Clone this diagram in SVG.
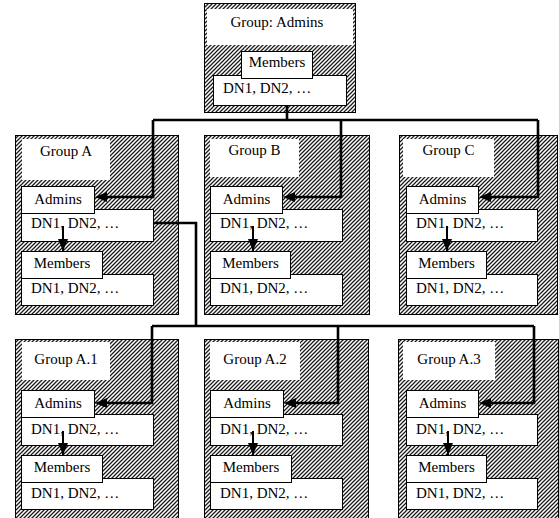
<svg xmlns="http://www.w3.org/2000/svg" width="559" height="518" viewBox="0 0 559 518" font-family="'Liberation Serif', 'Times New Roman', 'DejaVu Serif', serif" font-size="15">
<style>
text{font-family:'Liberation Serif','Times New Roman','DejaVu Serif',serif;font-size:15px;fill:#000}
.c{text-anchor:middle}
.outer{fill:url(#hatch);stroke:#000;stroke-width:1}
.lbl{fill:#fff;stroke:none}
.box{fill:#fff;stroke:#000;stroke-width:1}
.conn{fill:none;stroke:#000;stroke-width:2.6}
.arr{fill:none;stroke:#000;stroke-width:2;marker-end:url(#ah)}
</style>
<defs>
<pattern id="hatch" patternUnits="userSpaceOnUse" width="4" height="4">
<rect width="4" height="4" fill="#fff"/>
<path d="M-1,1 l2,-2 M0,4 l4,-4 M3,5 l2,-2" stroke="#1a1a1a" stroke-width="1.25"/>
</pattern>
<marker id="ah" viewBox="0 0 12 10" refX="12" refY="5" markerWidth="12" markerHeight="10" markerUnits="userSpaceOnUse" orient="auto">
<path d="M0,0 L12,5 L0,10 z" fill="#000"/>
</marker>
</defs>

<g id="group-admins">
<rect class="outer" x="204.5" y="3.5" width="151" height="109"/>
<rect class="lbl" x="207" y="9" width="146" height="36"/>
<text class="c" x="277" y="27">Group: Admins</text>
<rect class="box" x="213.5" y="75.5" width="133" height="30"/>
<text x="223" y="93">DN1, DN2, …</text>
<rect class="box" x="241.5" y="51.5" width="71" height="27"/>
<text class="c" x="277" y="67">Members</text>
</g>

<g id="group-a" transform="translate(15,135)">
<rect class="outer" x="0.5" y="0.5" width="163" height="179"/>
<rect class="lbl" x="7" y="4" width="88" height="41"/>
<text class="c" x="51" y="21">Group A</text>
<rect class="box" x="6.5" y="74.5" width="132" height="32"/>
<text x="16" y="93">DN1, DN2, …</text>
<rect class="box" x="6.5" y="51.5" width="73" height="27"/>
<text class="c" x="43" y="69">Admins</text>
<rect class="box" x="6.5" y="139.5" width="132" height="31"/>
<text x="16" y="158">DN1, DN2, …</text>
<rect class="box" x="6.5" y="116.5" width="81" height="27"/>
<text class="c" x="47" y="133">Members</text>
<path class="arr" d="M48,91 V116"/>
</g>

<g id="group-b" transform="translate(204,135)">
<rect class="outer" x="0.5" y="0.5" width="165" height="179"/>
<rect class="lbl" x="6" y="4" width="89" height="38"/>
<text class="c" x="50.5" y="20">Group B</text>
<rect class="box" x="6.5" y="74.5" width="132" height="32"/>
<text x="16" y="93">DN1, DN2, …</text>
<rect class="box" x="6.5" y="51.5" width="72" height="27"/>
<text class="c" x="42.5" y="69">Admins</text>
<rect class="box" x="6.5" y="139.5" width="132" height="31"/>
<text x="16" y="158">DN1, DN2, …</text>
<rect class="box" x="6.5" y="116.5" width="80" height="27"/>
<text class="c" x="46.5" y="133">Members</text>
<path class="arr" d="M49,91 V116"/>
</g>

<g id="group-c" transform="translate(399,135)">
<rect class="outer" x="0.5" y="0.5" width="158" height="179"/>
<rect class="lbl" x="4" y="4" width="91" height="38"/>
<text class="c" x="49.5" y="20">Group C</text>
<rect class="box" x="7.5" y="74.5" width="131" height="32"/>
<text x="17" y="93">DN1, DN2, …</text>
<rect class="box" x="7.5" y="51.5" width="72" height="27"/>
<text class="c" x="43.5" y="69">Admins</text>
<rect class="box" x="7.5" y="139.5" width="131" height="31"/>
<text x="17" y="158">DN1, DN2, …</text>
<rect class="box" x="7.5" y="116.5" width="80" height="27"/>
<text class="c" x="47.5" y="133">Members</text>
<path class="arr" d="M48,91 V116"/>
</g>

<g id="group-a1" transform="translate(15,339)">
<rect class="outer" x="0.5" y="0.5" width="163" height="185"/>
<rect class="lbl" x="7" y="3" width="88" height="38"/>
<text class="c" x="51" y="25">Group A.1</text>
<rect class="box" x="6.5" y="75.5" width="132" height="31"/>
<text x="16" y="95">DN1, DN2, …</text>
<rect class="box" x="6.5" y="51.5" width="73" height="27"/>
<text class="c" x="43" y="69">Admins</text>
<rect class="box" x="6.5" y="139.5" width="132" height="31"/>
<text x="16" y="159">DN1, DN2, …</text>
<rect class="box" x="6.5" y="116.5" width="81" height="27"/>
<text class="c" x="47" y="133">Members</text>
<path class="arr" d="M48,92 V116"/>
</g>

<g id="group-a2" transform="translate(204,339)">
<rect class="outer" x="0.5" y="0.5" width="164" height="185"/>
<rect class="lbl" x="6" y="3" width="90" height="38"/>
<text class="c" x="51" y="25">Group A.2</text>
<rect class="box" x="6.5" y="75.5" width="132" height="31"/>
<text x="16" y="95">DN1, DN2, …</text>
<rect class="box" x="6.5" y="51.5" width="73" height="27"/>
<text class="c" x="43" y="69">Admins</text>
<rect class="box" x="6.5" y="139.5" width="132" height="31"/>
<text x="16" y="159">DN1, DN2, …</text>
<rect class="box" x="6.5" y="116.5" width="81" height="27"/>
<text class="c" x="47" y="133">Members</text>
<path class="arr" d="M49,92 V116"/>
</g>

<g id="group-a3" transform="translate(398,339)">
<rect class="outer" x="0.5" y="0.5" width="160" height="185"/>
<rect class="lbl" x="5" y="3" width="92" height="38"/>
<text class="c" x="51" y="25">Group A.3</text>
<rect class="box" x="8.5" y="75.5" width="131" height="31"/>
<text x="18" y="95">DN1, DN2, …</text>
<rect class="box" x="8.5" y="51.5" width="72" height="27"/>
<text class="c" x="44.5" y="69">Admins</text>
<rect class="box" x="8.5" y="139.5" width="131" height="31"/>
<text x="18" y="159">DN1, DN2, …</text>
<rect class="box" x="8.5" y="116.5" width="80" height="27"/>
<text class="c" x="48.5" y="133">Members</text>
<path class="arr" d="M50,92 V116"/>
</g>

<g id="connectors">
<path class="conn" d="M287,105 V120 M153,120 H538"/>
<path class="conn" d="M153,120 V197 H106"/>
<path class="conn" d="M341,120 V197 H294"/>
<path class="conn" d="M538,120 V197 H490"/>
<path class="arr" d="M108,197 H95" style="stroke-width:0.5"/>
<path class="arr" d="M296,197 H283" style="stroke-width:0.5"/>
<path class="arr" d="M492,197 H479" style="stroke-width:0.5"/>
<path class="conn" d="M153,223 H196 V326 M152,326 H534"/>
<path class="conn" d="M152,326 V403 H106"/>
<path class="conn" d="M338,326 V403 H294"/>
<path class="conn" d="M534,326 V403 H490"/>
<path class="arr" d="M108,403 H95" style="stroke-width:0.5"/>
<path class="arr" d="M297,403 H284" style="stroke-width:0.5"/>
<path class="arr" d="M492,403 H479" style="stroke-width:0.5"/>
</g>
</svg>
